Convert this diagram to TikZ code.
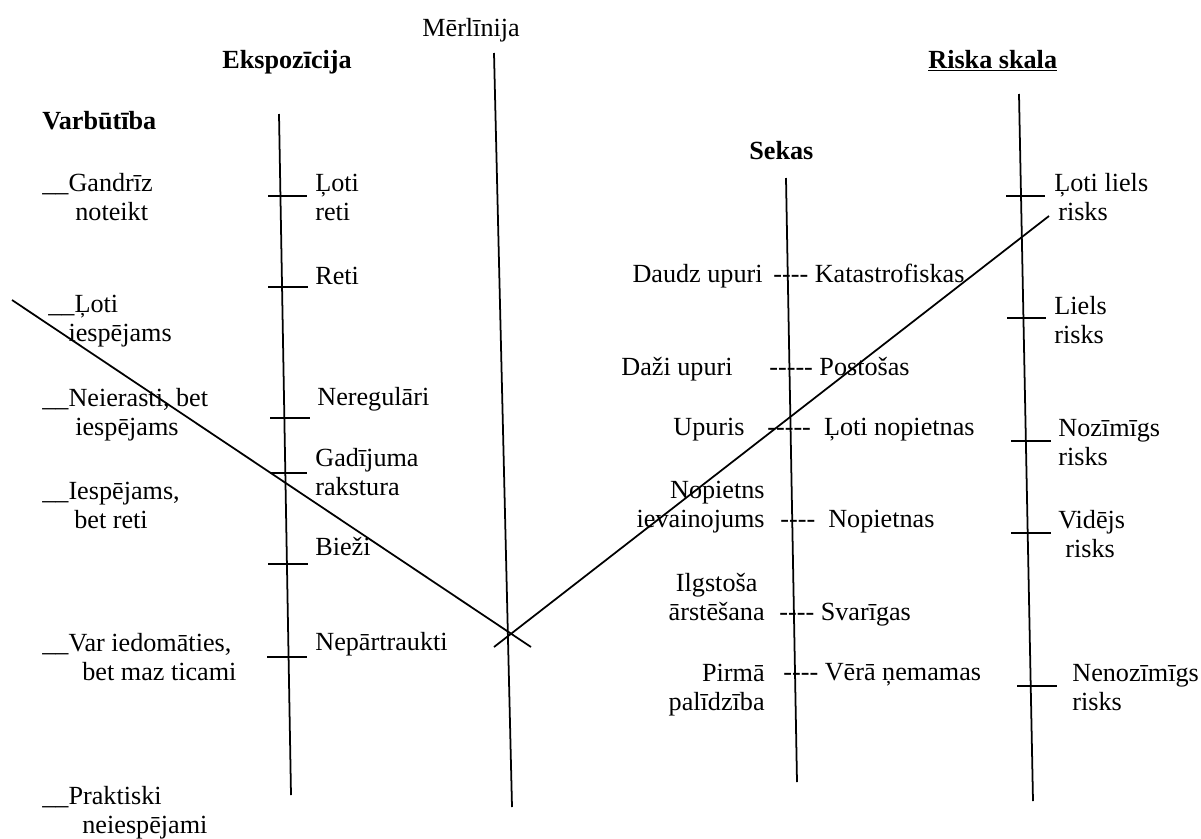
\documentclass[tikz,border=0pt]{standalone}
\usepackage{fontspec}
\setmainfont{Liberation Serif}
\usepackage{tikz}
\usetikzlibrary{positioning}
\newcommand{\hy}{-\kern0pt}

\begin{document}
\begin{tikzpicture}[x=0.02cm,y=-0.02cm,
    every node/.style={inner sep=0pt,font=\fontsize{14.9}{16.5}\selectfont},
    lbl/.style={align=left,anchor=base west},
    lblr/.style={align=right,anchor=base east},
    axis/.style={line width=1pt},
    tk/.style={line width=0.8pt}]
  \useasboundingbox (0,0) rectangle (1201,839);

   \draw (42,129) node[anchor=base west] (varbut) {\textbf{Varbūtība}};
   \draw (222,68) node[anchor=base west] (ekspoz) {\textbf{Ekspozīcija}};
   \draw (422,36) node[anchor=base west] (merlin) {Mērlīnija};
   \draw (749,159) node[anchor=base west] (sekas) {\textbf{Sekas}};
   \draw (928,68) node[anchor=base west] (riska) {\underline{\textbf{Riska skala}}};

   \coordinate (eTop) at (279,114);  \coordinate (eBot) at (291,795);
   \coordinate (mTop) at (494,53);   \coordinate (mBot) at (512,807);
   \coordinate (sTop) at (786,178);  \coordinate (sBot) at (797,782);
   \coordinate (rTop) at (1019,94);  \coordinate (rBot) at (1033,801);
   \coordinate (vLeft) at (12,300);  \coordinate (vLeftEnd) at (531,647);
   \coordinate (vRightEnd) at (494,647); \coordinate (vRight) at (1049,216);

   \path[-,axis] (eTop) edge (eBot);
   \path[-,axis] (mTop) edge (mBot);
   \path[-,axis] (sTop) edge (sBot);
   \path[-,axis] (rTop) edge (rBot);
   \path[-,axis] (vLeft) edge (vLeftEnd);
   \path[-,axis] (vRightEnd) edge (vRight);

   \draw[tk] (268,196) -- (307,196);
   \draw[tk] (268,287) -- (308,287);
   \draw[tk] (270,418) -- (310,418);
   \draw[tk] (270,473) -- (307,473);
   \draw[tk] (268,564) -- (308,564);
   \draw[tk] (267,657) -- (307,657);

   \draw[tk] (1006,196) -- (1045,196);
   \draw[tk] (1007,318) -- (1046,318);
   \draw[tk] (1011,441) -- (1051,441);
   \draw[tk] (1011,533) -- (1051,533);
   \draw[tk] (1017,686) -- (1057,686);

   \draw (42,220) node[lbl] (gandriz) {\_\_Gandrīz\\\hspace*{1.26em}noteikt};
   \draw (48,341) node[lbl] (lotiIesp) {\_\_Ļoti\\\hspace*{0.77em}iespējams};
   \draw (42,435) node[lbl] (neierasti) {\_\_Neierasti, bet\\\hspace*{1.26em}iespējams};
   \draw (42,528) node[lbl] (iespejams) {\_\_Iespējams,\\\hspace*{1.22em}bet reti};
   \draw (42,680) node[lbl] (varIedom) {\_\_Var iedomāties,\\\hspace*{1.53em}bet maz ticami};
   \draw (42,833) node[lbl] (praktiski) {\_\_Praktiski\\\hspace*{1.53em}neiespējami};

   \draw (315,220) node[lbl] (lotiReti) {Ļoti\\reti};
   \draw (315,284) node[lbl] (reti) {Reti};
   \draw (317,405) node[lbl] (neregulari) {Neregulāri};
   \draw (315,495) node[lbl] (gadijuma) {Gadījuma\\rakstura};
   \draw (315,555) node[lbl] (biezi) {Bieži};
   \draw (315,650) node[lbl] (nepartraukti) {Nepārtraukti};

   \draw (763,282) node[lblr] (daudz) {Daudz upuri};
   \draw (733,375) node[lblr] (dazi) {Daži upuri};
   \draw (745,435) node[lblr] (upuris) {Upuris};
   \draw (765,527) node[lblr] (nopietns) {Nopietns\\ievainojums};
   \draw (765,620) node[lblr,align=center] (ilgstosa) {Ilgstoša\\ārstēšana};
   \draw (765,710) node[lblr] (pirma) {Pirmā\\palīdzība};

   \draw (773,282) node[lbl] (katastr) {\hy\hy\hy\hy{} Katastrofiskas};
   \draw (769,375) node[lbl] (postosas) {\hy\hy\hy\hy\hy{} Postošas};
   \draw (767,435) node[lbl] (lotiNop) {\hy\hy\hy\hy\hy{}~~Ļoti nopietnas};
   \draw (780,527) node[lbl] (nopietnas) {\hy\hy\hy\hy{}~~Nopietnas};
   \draw (779,620) node[lbl] (svarigas) {\hy\hy\hy\hy{} Svarīgas};
   \draw (783,680) node[lbl] (vera) {\hy\hy\hy\hy{} Vērā ņemamas};

   \draw (1054,220) node[lbl] (lotiLiels) {Ļoti liels\\\hspace*{0.15em}risks};
   \draw (1054,343) node[lbl] (liels) {Liels\\risks};
   \draw (1058,465) node[lbl] (nozimigs) {Nozīmīgs\\risks};
   \draw (1058,557) node[lbl] (videjs) {Vidējs\\\hspace*{0.27em}risks};
   \draw (1072,710) node[lbl] (nenozimigs) {Nenozīmīgs\\risks};
\end{tikzpicture}
\end{document}
